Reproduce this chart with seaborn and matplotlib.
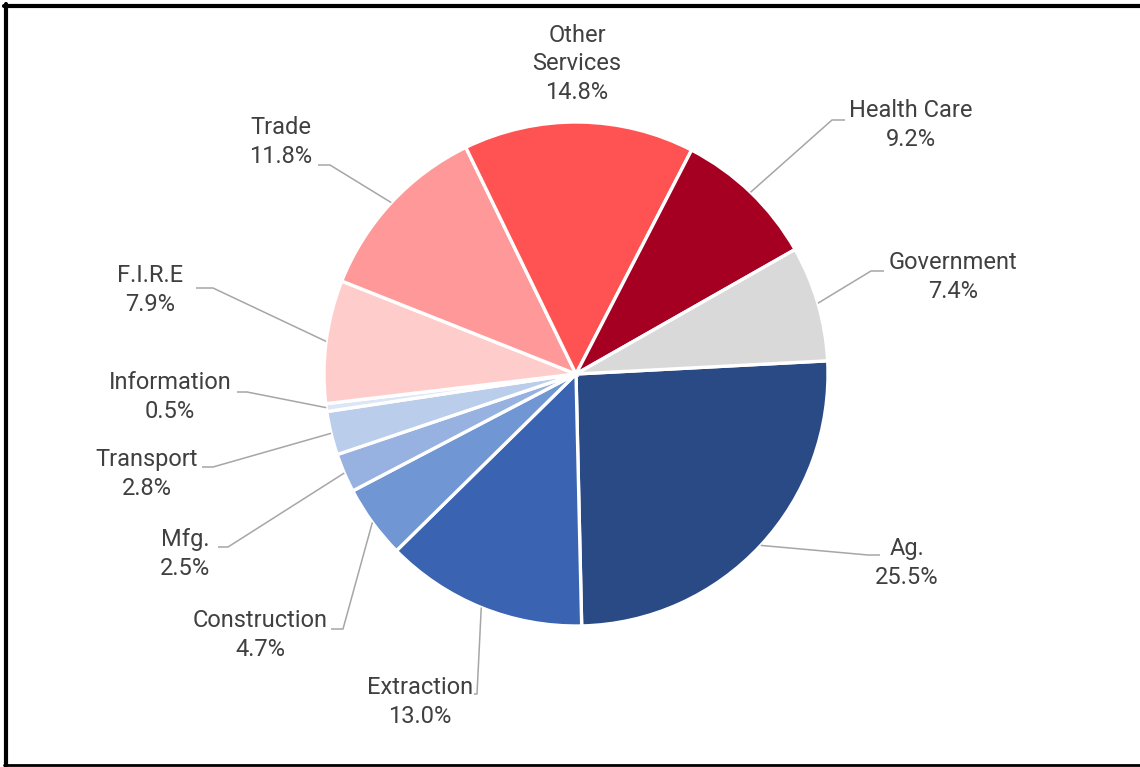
import numpy as np
import matplotlib
matplotlib.use("Agg")
import matplotlib.pyplot as plt
import seaborn as sns

# ---- data ----
sectors = ["Ag.", "Extraction", "Construction", "Mfg.", "Transport", "Information",
           "F.I.R.E", "Trade", "Other\nServices", "Health Care", "Government"]
shares = [25.5, 13.0, 4.7, 2.5, 2.8, 0.5, 7.9, 11.8, 14.8, 9.2, 7.4]

colors = ["#2A4A86", "#3A63B1", "#7096D4", "#97B1E0", "#BACDEB", "#DCE6F5",
          "#FFCCCC", "#FF9999", "#FF5252", "#A50021", "#D9D9D9"]

# ---- layout (image pixel coords, y down) ----
W, H = 1140, 767
CX, CY, R = 576, 374, 252
START = 3.0
label_pos = [(907, 563), (420, 702), (260, 635), (185, 554), (147, 474), (170, 397),
             (150, 290), (281, 142), (577, 64), (911, 125), (953, 277)]
# (elbow, end) of leader lines; None = no leader
leaders = [((868, 555), (880, 555)), ((477, 694), (474, 694)), ((343, 629), (331, 629)),
           ((228, 547), (218, 547)), ((213, 467), (202, 467)), ((247, 392), (237, 392)),
           ((213, 288), (196, 288)), ((330, 165), (318, 165)), None,
           ((832, 120), (845, 120)), ((871, 271), (884, 271))]

sns.set_theme(style="white")
plt.rcParams["font.family"] = ["Roboto", "DejaVu Sans"]

fig = plt.figure(figsize=(W / 100, H / 100), dpi=100)
ax = fig.add_axes([0, 0, 1, 1])

def Y(y):
    return H - y

ax.pie(shares, colors=colors, startangle=START, counterclock=False,
       center=(CX, Y(CY)), radius=R, frame=True,
       wedgeprops=dict(edgecolor="white", linewidth=2.4))
ax.set_xlim(0, W)
ax.set_ylim(0, H)
ax.set_aspect("equal")
ax.axis("off")

total = sum(shares)
cum = 0.0
for i, (name, v) in enumerate(zip(sectors, shares)):
    a0 = START - 360 * cum / total
    cum += v
    a1 = START - 360 * cum / total
    mid = np.deg2rad((a0 + a1) / 2)
    sx = CX + R * np.cos(mid)
    sy = Y(CY) + R * np.sin(mid)
    if leaders[i] is not None:
        (ex, ey), (fx, fy) = leaders[i]
        ax.plot([sx, ex, fx], [sy, Y(ey), Y(fy)], color="#A6A6A6", lw=1.1,
                solid_capstyle="butt", zorder=1)
    lx, ly = label_pos[i]
    ax.text(lx, Y(ly), f"{name}\n{v:.1f}%", ha="center", va="center",
            fontsize=17, color="#404040", linespacing=1.3)

# outer frame (left, top, bottom)
ax.plot([6, 6], [Y(4), Y(766)], color="black", lw=3, clip_on=False)
ax.plot([4, W], [Y(6), Y(6)], color="black", lw=3, clip_on=False)
ax.plot([4, W], [Y(765), Y(765)], color="black", lw=2, clip_on=False)

fig.savefig("out.png", dpi=100, facecolor="white")
